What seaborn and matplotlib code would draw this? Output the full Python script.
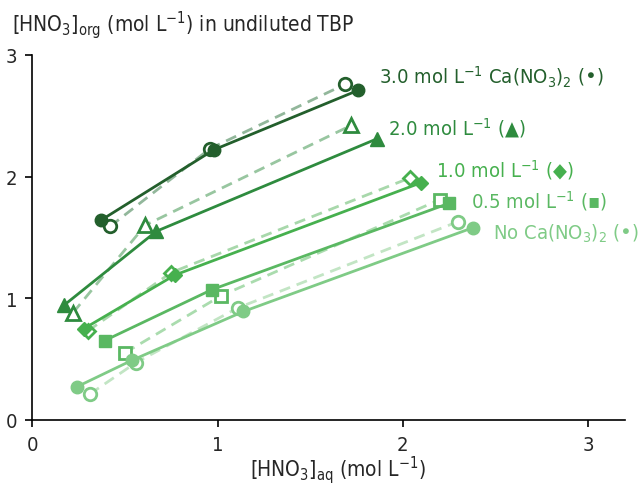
import pandas as pd
import matplotlib
matplotlib.use("Agg")
import matplotlib.pyplot as plt
import seaborn as sns

sns.set_style("white")
plt.rcParams['font.family'] = ['DejaVu Sans']
plt.rcParams['font.stretch'] = 'condensed'
plt.rcParams['mathtext.default'] = 'regular'

# series names (Ca(NO3)2 concentration)
series = ["3.0", "2.0", "1.0", "0.5", "0"]

# filled markers, solid lines
x_filled = {
    "3.0": [0.37, 0.98, 1.76],
    "2.0": [0.17, 0.67, 1.86],
    "1.0": [0.28, 0.77, 2.10],
    "0.5": [0.39, 0.97, 2.25],
    "0":   [0.24, 0.54, 1.14, 2.38],
}
y_filled = {
    "3.0": [1.64, 2.22, 2.71],
    "2.0": [0.94, 1.55, 2.31],
    "1.0": [0.75, 1.19, 1.95],
    "0.5": [0.65, 1.07, 1.78],
    "0":   [0.27, 0.49, 0.89, 1.58],
}
# open markers, dashed lines
x_open = {
    "3.0": [0.42, 0.96, 1.69],
    "2.0": [0.22, 0.61, 1.72],
    "1.0": [0.30, 0.75, 2.04],
    "0.5": [0.50, 1.02, 2.20],
    "0":   [0.31, 0.56, 1.11, 2.30],
}
y_open = {
    "3.0": [1.59, 2.23, 2.76],
    "2.0": [0.88, 1.60, 2.42],
    "1.0": [0.73, 1.21, 1.99],
    "0.5": [0.55, 1.02, 1.81],
    "0":   [0.21, 0.47, 0.92, 1.63],
}

labels = {
    "3.0": "3.0 mol L$^{-1}$ Ca(NO$_3$)$_2$ (\u2022)",
    "2.0": "2.0 mol L$^{-1}$ (\u25b2)",
    "1.0": "1.0 mol L$^{-1}$ (\u25c6)",
    "0.5": "0.5 mol L$^{-1}$ (\u25aa)",
    "0":   "No Ca(NO$_3$)$_2$ (\u2022)",
}
label_pos = {
    "3.0": (1.87, 2.82),
    "2.0": (1.92, 2.41),
    "1.0": (2.18, 2.06),
    "0.5": (2.37, 1.81),
    "0":   (2.49, 1.54),
}

colors = {"3.0": "#235f2c", "2.0": "#2e8b3e", "1.0": "#46b04e", "0.5": "#5ab862", "0": "#7fcb86"}
dash_colors = {"3.0": "#92b79b", "2.0": "#98c6a0", "1.0": "#a8d8ab", "0.5": "#aadcae", "0": "#c2e5c4"}
markers = {"3.0": "o", "2.0": "^", "1.0": "D", "0.5": "s", "0": "o"}
msize = {"3.0": 9, "2.0": 10, "1.0": 7.5, "0.5": 8.5, "0": 9}

fig = plt.figure(figsize=(6.42, 4.89), dpi=100)
ax = fig.add_axes([0.0503, 0.1397, 0.9232, 0.7458])

for s in series:
    c = colors[s]
    sns.lineplot(x=x_open[s], y=y_open[s], ax=ax, color=dash_colors[s], linewidth=2,
                 linestyle=(0, (4, 2.5)), marker=markers[s], markersize=msize[s],
                 markerfacecolor="white", markeredgecolor=c, markeredgewidth=2, sort=False)
    sns.lineplot(x=x_filled[s], y=y_filled[s], ax=ax, color=c, linewidth=2,
                 marker=markers[s], markersize=msize[s], markerfacecolor=c,
                 markeredgecolor=c, markeredgewidth=1, sort=False)
    lx, ly = label_pos[s]
    ax.text(lx, ly, labels[s], color=c, fontsize=14.5, va="center", ha="left")

ax.set_xlim(0, 3.2)
ax.set_ylim(0, 3)
ax.set_xticks([0, 1, 2, 3])
ax.set_yticks([0, 1, 2, 3])
ax.tick_params(axis="both", direction="out", length=5, width=1.2, labelsize=14.5,
               left=True, bottom=True, color="black", pad=6)
for side in ["top", "right"]:
    ax.spines[side].set_visible(False)
for side in ["left", "bottom"]:
    ax.spines[side].set_color("black")
    ax.spines[side].set_linewidth(1.2)
ax.set_xlabel("")
ax.set_ylabel("")

fig.text(12 / 642, 1 - 25 / 489, "[HNO$_3$]$_{org}$ (mol L$^{-1}$) in undiluted TBP",
         fontsize=15, va="center", ha="left")
fig.text(338 / 642, 1 - 470 / 489, "[HNO$_3$]$_{aq}$ (mol L$^{-1}$)",
         fontsize=15, va="center", ha="center")

fig.savefig("out.png", dpi=100)
